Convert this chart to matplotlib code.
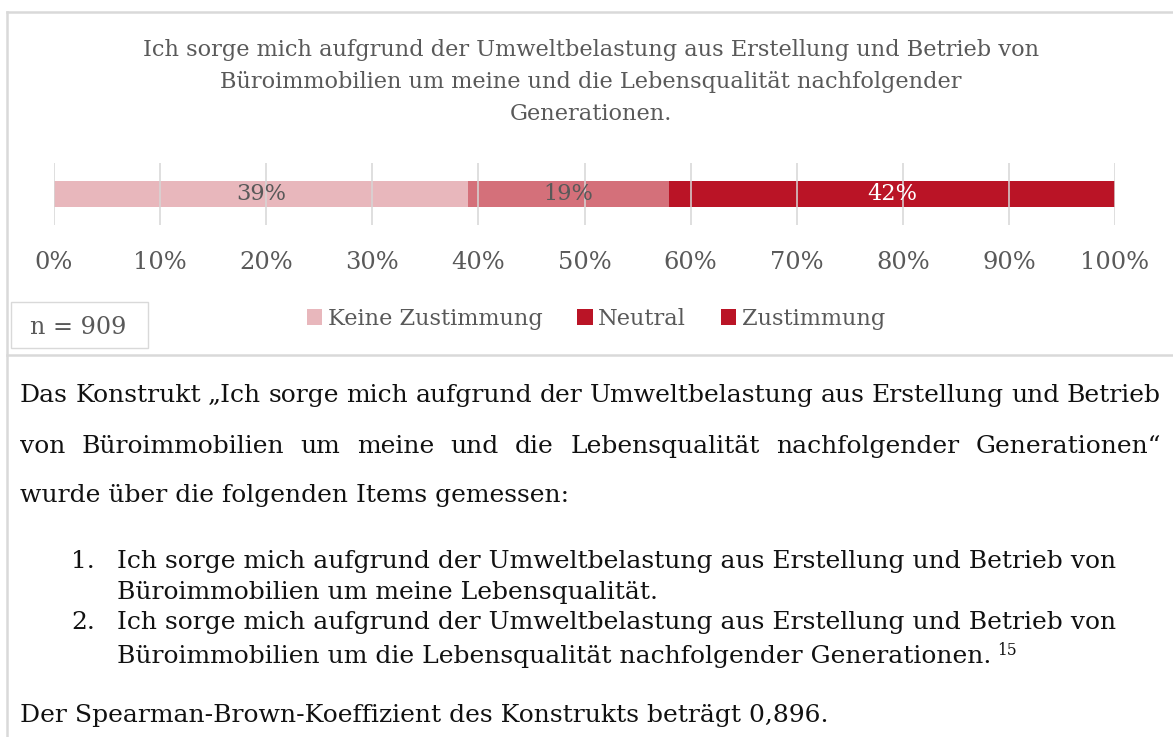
import matplotlib
matplotlib.use("Agg")
import matplotlib.pyplot as plt
from matplotlib.patches import Patch, Rectangle
from matplotlib.lines import Line2D

# ---- data ----
categories = ["Keine Zustimmung", "Neutral", "Zustimmung"]
values = [39, 19, 42]
bar_colors = ["#E8B7BC", "#D4707A", "#BA1426"]
legend_colors = ["#E8B7BC", "#BA1426", "#BA1426"]
label_colors = ["#595959", "#595959", "#FFFFFF"]
ticks = [0, 10, 20, 30, 40, 50, 60, 70, 80, 90, 100]
tick_labels = [f"{t}%" for t in ticks]
title_lines = ["Ich sorge mich aufgrund der Umweltbelastung aus Erstellung und Betrieb von",
               "Büroimmobilien um meine und die Lebensqualität nachfolgender",
               "Generationen."]
n_text = "n = 909"
body_lines = ["Das Konstrukt „Ich sorge mich aufgrund der Umweltbelastung aus Erstellung und Betrieb",
              "von Büroimmobilien um meine und die Lebensqualität nachfolgender Generationen“",
              "wurde über die folgenden Items gemessen:"]
items = [["Ich sorge mich aufgrund der Umweltbelastung aus Erstellung und Betrieb von",
          "Büroimmobilien um meine Lebensqualität."],
         ["Ich sorge mich aufgrund der Umweltbelastung aus Erstellung und Betrieb von",
          "Büroimmobilien um die Lebensqualität nachfolgender Generationen."]]
footnote = "15"
last_line = "Der Spearman-Brown-Koeffizient des Konstrukts beträgt 0,896."

W, H = 1173, 737
FONT = "DejaVu Serif"
plt.rcParams["font.family"] = FONT

fig = plt.figure(figsize=(W / 100, H / 100), dpi=100)

def fx(x):
    return x / W

def fy(y):
    return 1 - y / H

# ---- frame lines ----
frame_c = "#D9D9D9"
fig.add_artist(Line2D([fx(7), 1], [fy(12), fy(12)], color=frame_c, lw=1.8))
fig.add_artist(Line2D([fx(7), fx(7)], [fy(12), 0], color=frame_c, lw=1.8))
fig.add_artist(Line2D([fx(7), 1], [fy(355), fy(355)], color=frame_c, lw=1.8))

TITLE = 16.2
TICK = 17.4
LEG = 16.2
DLAB = 16.2
NSZ = 17.2
BODY = 18.0
TXT = "#111111"

# ---- title ----
for i, line in enumerate(title_lines):
    fig.text(fx(591), fy(50 + 32 * i), line, ha="center", va="center",
             fontsize=TITLE, color="#595959")

# ---- bar axes ----
x0, x1 = 54, 1115
ytop, ybot = 163, 225
ax = fig.add_axes([fx(x0), fy(ybot), (x1 - x0) / W, (ybot - ytop) / H])
left = 0
for cat, v, c, lc in zip(categories, values, bar_colors, label_colors):
    ax.barh([0.5], [v], left=[left], height=26 / 62, color=c, zorder=1)
    ax.text(left + v / 2, 0.5, f"{v}%", ha="center", va="center",
            fontsize=DLAB, color=lc, zorder=3)
    left += v
ax.set_xlim(0, 100)
ax.set_ylim(0, 1)
ax.set_xticks(ticks)
ax.set_xticklabels(tick_labels)
ax.set_yticks([])
ax.tick_params(axis="x", length=0, pad=19, labelsize=TICK, labelcolor="#595959")
ax.grid(axis="x", color="#D6D6D6", lw=1.1, zorder=2)
ax.set_axisbelow(False)
for s in ax.spines.values():
    s.set_visible(False)
ax.patch.set_alpha(0)

# ---- legend ----
handles = [Patch(facecolor=c, edgecolor="none") for c in legend_colors]
leg = fig.legend(handles, categories, loc="center", bbox_to_anchor=(fx(596), fy(319)),
                 ncol=3, frameon=False, fontsize=LEG, handlelength=0.68, handleheight=0.68,
                 handletextpad=0.25, columnspacing=1.55, labelcolor="#595959")

# ---- n box ----
fig.add_artist(Rectangle((fx(11), fy(348)), (148 - 11) / W, (348 - 302) / H,
                         transform=fig.transFigure, facecolor="white",
                         edgecolor="#D9D9D9", lw=1))
fig.text(fx(78), fy(328), n_text, ha="center", va="center", fontsize=NSZ, color="#595959")

# ---- body text ----
fig.canvas.draw()
renderer = fig.canvas.get_renderer()

def justify(line, y, xl, xr, size):
    words = line.split(" ")
    ts = [fig.text(0, fy(y), w, ha="left", va="baseline", fontsize=size, color=TXT)
          for w in words]
    widths = [t.get_window_extent(renderer).width for t in ts]
    gap = (xr - xl - sum(widths)) / (len(words) - 1)
    x = xl
    for t, w in zip(ts, widths):
        t.set_x(fx(x))
        x += w + gap

justify(body_lines[0], 402, 20, 1161, BODY)
justify(body_lines[1], 453, 20, 1161, BODY)
fig.text(fx(20), fy(502), body_lines[2], ha="left", va="baseline", fontsize=BODY, color=TXT)

item_y = [[568, 599], [629, 663]]
for k, (item, ys) in enumerate(zip(items, item_y)):
    fig.text(fx(95), fy(ys[0]), f"{k + 1}.", ha="right", va="baseline", fontsize=BODY, color=TXT)
    for line, y in zip(item, ys):
        t = fig.text(fx(117), fy(y), line, ha="left", va="baseline", fontsize=BODY, color=TXT)
    if k == 1:
        ext = t.get_window_extent(renderer)
        fig.text(fx(ext.x1 + 6), fy(y - 8), footnote, ha="left", va="baseline",
                 fontsize=BODY * 0.62, color=TXT)

fig.text(fx(20), fy(722), last_line, ha="left", va="baseline", fontsize=BODY, color=TXT)

fig.savefig("out.png", dpi=100)
